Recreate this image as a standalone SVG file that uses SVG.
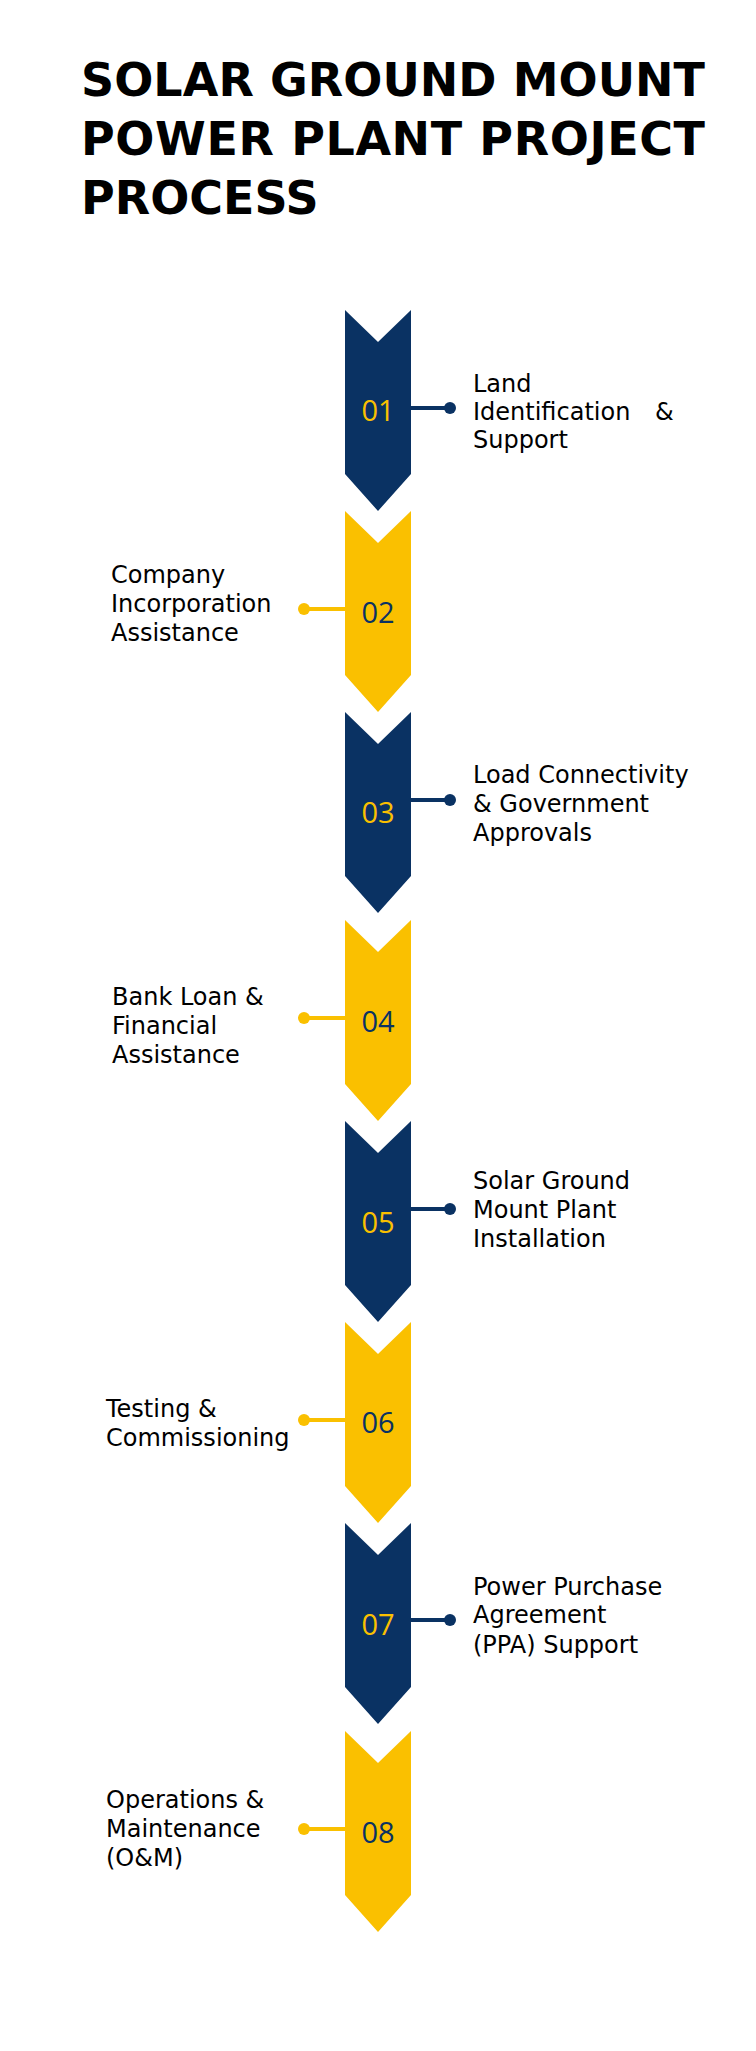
<svg xmlns="http://www.w3.org/2000/svg" width="756" height="2051" viewBox="0 0 756 2051">
  <style>
    .title { font-family: "DejaVu Sans", "Liberation Sans", sans-serif; font-weight: bold; font-size: 46px; fill: #000000; }
    .label { font-family: "DejaVu Sans", "Liberation Sans", sans-serif; font-size: 24px; fill: #000000; }
    .num { font-family: "Open Sans", "Noto Sans", sans-serif; font-size: 29px; text-anchor: middle; }
    .navy { fill: #0A3263; }
    .gold { fill: #FAC000; }
    .numNavy { fill: #FAC000; }
    .numGold { fill: #0A3263; }
    .lnNavy { stroke: #0A3263; stroke-width: 4; fill: none; }
    .lnGold { stroke: #FAC000; stroke-width: 4; fill: none; }
  </style>
  <defs>
    <path id="chev" d="M0,0 L33,32 L66,0 L66,164 L33,201 L0,164 Z"/>
  </defs>
  <rect x="0" y="0" width="756" height="2051" fill="#FFFFFF"/>

  <g id="title">
    <text class="title" x="81" y="96" textLength="624" lengthAdjust="spacing">SOLAR GROUND MOUNT</text>
    <text class="title" x="81" y="155" textLength="624" lengthAdjust="spacing">POWER PLANT PROJECT</text>
    <text class="title" x="81" y="214">PROCESS</text>
  </g>

  <g id="connectors">
    <line class="lnNavy" x1="411" y1="408" x2="450" y2="408"/>
    <circle class="navy" cx="450" cy="408" r="6"/>
    <line class="lnGold" x1="304" y1="609" x2="345" y2="609"/>
    <circle class="gold" cx="304" cy="609" r="6"/>
    <line class="lnNavy" x1="411" y1="800" x2="450" y2="800"/>
    <circle class="navy" cx="450" cy="800" r="6"/>
    <line class="lnGold" x1="304" y1="1018" x2="345" y2="1018"/>
    <circle class="gold" cx="304" cy="1018" r="6"/>
    <line class="lnNavy" x1="411" y1="1209" x2="450" y2="1209"/>
    <circle class="navy" cx="450" cy="1209" r="6"/>
    <line class="lnGold" x1="304" y1="1420" x2="345" y2="1420"/>
    <circle class="gold" cx="304" cy="1420" r="6"/>
    <line class="lnNavy" x1="411" y1="1620" x2="450" y2="1620"/>
    <circle class="navy" cx="450" cy="1620" r="6"/>
    <line class="lnGold" x1="304" y1="1829" x2="345" y2="1829"/>
    <circle class="gold" cx="304" cy="1829" r="6"/>
  </g>

  <g id="step01">
    <use href="#chev" class="navy" x="345" y="310"/>
    <text class="num numNavy" x="378" y="421">01</text>
    <text class="label" x="473" y="392">Land</text>
    <text class="label" x="473" y="420">Identification</text>
    <text class="label" x="655" y="420">&amp;</text>
    <text class="label" x="473" y="448">Support</text>
  </g>

  <g id="step02">
    <use href="#chev" class="gold" x="345" y="511"/>
    <text class="num numGold" x="378" y="623">02</text>
    <text class="label" x="111" y="583">Company</text>
    <text class="label" x="111" y="612">Incorporation</text>
    <text class="label" x="111" y="641">Assistance</text>
  </g>

  <g id="step03">
    <use href="#chev" class="navy" x="345" y="712"/>
    <text class="num numNavy" x="378" y="823">03</text>
    <text class="label" x="473" y="783">Load Connectivity</text>
    <text class="label" x="473" y="812">&amp; Government</text>
    <text class="label" x="473" y="841">Approvals</text>
  </g>

  <g id="step04">
    <use href="#chev" class="gold" x="345" y="920"/>
    <text class="num numGold" x="378" y="1032">04</text>
    <text class="label" x="112" y="1005">Bank Loan &amp;</text>
    <text class="label" x="112" y="1034">Financial</text>
    <text class="label" x="112" y="1063">Assistance</text>
  </g>

  <g id="step05">
    <use href="#chev" class="navy" x="345" y="1121"/>
    <text class="num numNavy" x="378" y="1233">05</text>
    <text class="label" x="473" y="1189">Solar Ground</text>
    <text class="label" x="473" y="1218">Mount Plant</text>
    <text class="label" x="473" y="1247">Installation</text>
  </g>

  <g id="step06">
    <use href="#chev" class="gold" x="345" y="1322"/>
    <text class="num numGold" x="378" y="1433">06</text>
    <text class="label" x="106" y="1417">Testing &amp;</text>
    <text class="label" x="106" y="1446">Commissioning</text>
  </g>

  <g id="step07">
    <use href="#chev" class="navy" x="345" y="1523"/>
    <text class="num numNavy" x="378" y="1635">07</text>
    <text class="label" x="473" y="1595">Power Purchase</text>
    <text class="label" x="473" y="1623">Agreement</text>
    <text class="label" x="473" y="1653">(PPA) Support</text>
  </g>

  <g id="step08">
    <use href="#chev" class="gold" x="345" y="1731"/>
    <text class="num numGold" x="378" y="1843">08</text>
    <text class="label" x="106" y="1808">Operations &amp;</text>
    <text class="label" x="106" y="1837">Maintenance</text>
    <text class="label" x="106" y="1866">(O&amp;M)</text>
  </g>
</svg>
